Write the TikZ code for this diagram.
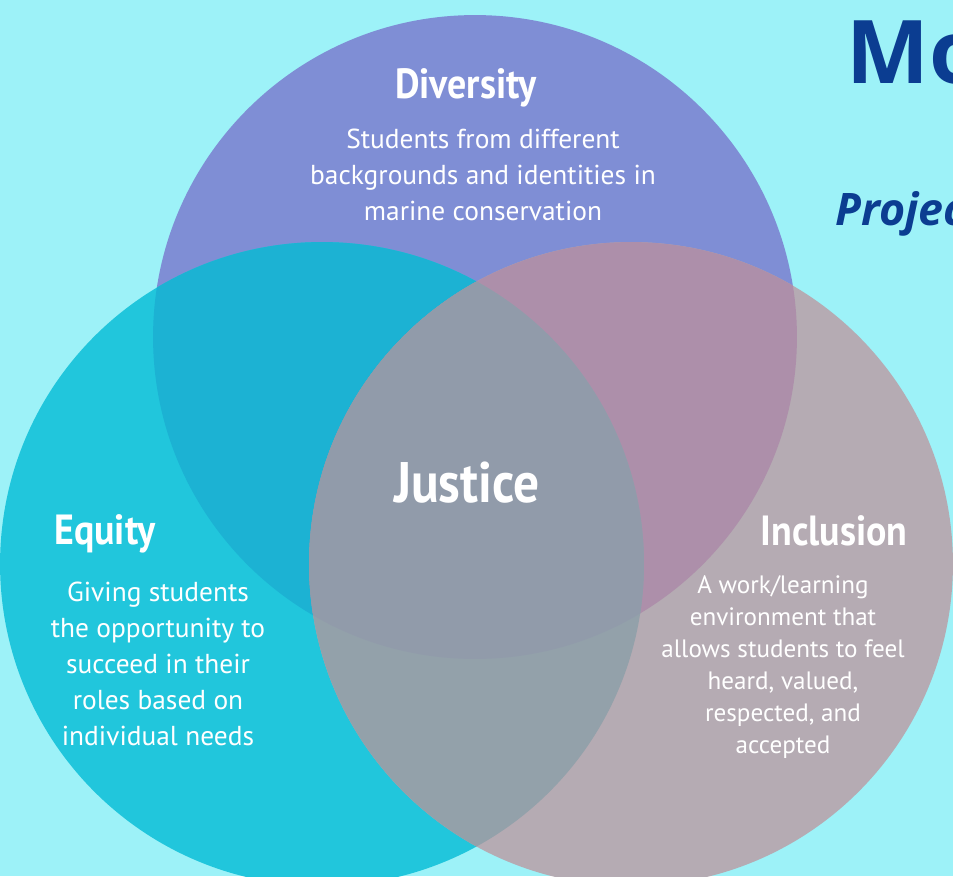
\documentclass[tikz,border=0pt]{standalone}
\usepackage{fontspec}
\setmainfont{PT Sans}
\newfontfamily\headfont[FakeStretch=0.9]{PT Sans}
\newfontfamily\titlefont{Open Sans}
\definecolor{bgcyan}{HTML}{9DF2F8}
\definecolor{divcol}{HTML}{7F8ED5}
\definecolor{eqcol}{HTML}{21C6DC}
\definecolor{inccol}{HTML}{B5ABB3}
\definecolor{eqdiv}{HTML}{1CB2D3}
\definecolor{divinc}{HTML}{AD8FAA}
\definecolor{eqinc}{HTML}{93A1AA}
\definecolor{allthree}{HTML}{919BAA}
\definecolor{titleblue}{HTML}{0B3D91}
\tikzset{
  head/.style={font=\headfont\bfseries\fontsize{24}{28}\selectfont, text=white, anchor=base, inner sep=0pt},
  body/.style={font=\fontsize{15.6}{19}\selectfont, text=white, anchor=base, inner sep=0pt},
  smallbody/.style={font=\fontsize{14.3}{17}\selectfont, text=white, anchor=base, inner sep=0pt}
}
\begin{document}
\begin{tikzpicture}[x=0.02cm, y=-0.02cm]
  % Definitionen
  \def\rad{6.44cm}
  \coordinate (cdiv) at (475,337);
  \coordinate (ceq) at (322,564);
  \coordinate (cinc) at (631,564);
  % Hintergrund
  \fill[bgcyan] (0,0) rectangle (953,876);
  \useasboundingbox (0,0) rectangle (953,876);
  % Kreise
  \fill[divcol] (cdiv) circle[radius=\rad];
  \fill[eqcol] (ceq) circle[radius=\rad];
  \fill[inccol] (cinc) circle[radius=\rad];
  % Schnittflaechen
  \begin{scope}
    \clip (cdiv) circle[radius=\rad];
    \fill[eqdiv] (ceq) circle[radius=\rad];
    \fill[divinc] (cinc) circle[radius=\rad];
  \end{scope}
  \begin{scope}
    \clip (ceq) circle[radius=\rad];
    \fill[eqinc] (cinc) circle[radius=\rad];
    \clip (cdiv) circle[radius=\rad];
    \fill[allthree] (cinc) circle[radius=\rad];
  \end{scope}
  % Titel (rechts abgeschnitten)
  \node[font=\titlefont\bfseries\fontsize{50}{56}\selectfont, text=titleblue, anchor=base west, inner sep=0pt] (title) at (846,83) {Mo};
  \node[font=\titlefont\bfseries\itshape\fontsize{25.5}{30}\selectfont, text=titleblue, anchor=base west, inner sep=0pt] (subtitle) at (835,225) {Projec};
  % Ueberschriften
  \node[head] (diversity) at (466,98) {Diversity};
  \node[head] (equity) at (105,544) {Equity};
  \node[head] (inclusion) at (834,545) {Inclusion};
  \node[head, font=\headfont\bfseries\fontsize{32.5}{38}\selectfont] (justice) at (467,502) {Justice};
  % Beschreibungen
  \foreach \txt [count=\i] in {Students from different, backgrounds and identities in, marine conservation} {
    \node[body] (div-\i) at (483,112+\i*36) {\txt};
  }
  \foreach \txt [count=\i] in {Giving students, the opportunity to, succeed in their, roles based on, individual needs} {
    \node[body] (eq-\i) at (158,565+\i*36) {\txt};
  }
  \foreach \txt [count=\i] in {A work/learning, environment that, allows students to feel, {heard, valued,}, {respected, and}, accepted} {
    \node[smallbody] (inc-\i) at (783,561+\i*32) {\txt};
  }
\end{tikzpicture}
\end{document}
